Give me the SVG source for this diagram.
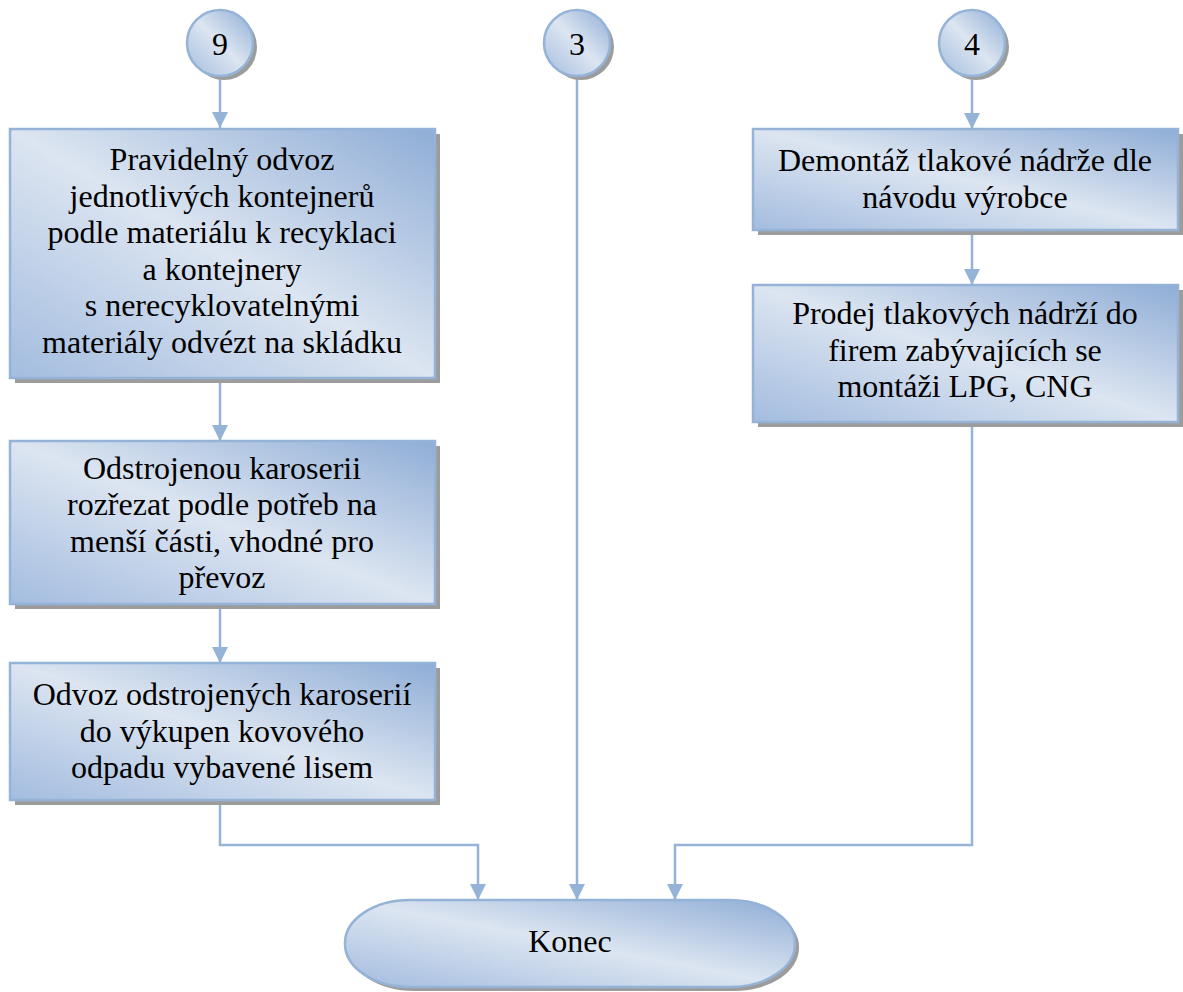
<svg xmlns="http://www.w3.org/2000/svg" width="1183" height="992" viewBox="0 0 1183 992" font-family="'Liberation Serif', 'Times New Roman', Times, serif">
  <style>
    .box { fill: url(#boxFill); stroke: #95b3d7; stroke-width: 2.5; }
    .shadow { fill: #9c9c9c; }
    .conn { fill: none; stroke: #95b3d7; stroke-width: 2.5; }
    .lbl { font-family: 'Liberation Serif', 'Times New Roman', Times, serif; font-size: 32px; fill: #000; text-anchor: middle; }
  </style>
  <defs>
    <linearGradient id="boxFill" x1="1" y1="0" x2="0" y2="1">
      <stop offset="0" stop-color="#8fadd6"/>
      <stop offset="0.5" stop-color="#dce5f1"/>
      <stop offset="1" stop-color="#a3bcdf"/>
    </linearGradient>
    <marker id="arrow" viewBox="0 0 16 16" refX="16" refY="8" markerWidth="16" markerHeight="16" markerUnits="userSpaceOnUse" orient="auto">
      <path d="M0,0 L16,8 L0,16 Z" fill="#95b3d7"/>
    </marker>
  </defs>

  <!-- connectors -->
  <g id="connectors">
    <path class="conn" d="M220,76 V128" marker-end="url(#arrow)"/>
    <path class="conn" d="M220,378 V441" marker-end="url(#arrow)"/>
    <path class="conn" d="M220,604 V663" marker-end="url(#arrow)"/>
    <path class="conn" d="M220,800 V845 H478 V900" marker-end="url(#arrow)"/>
    <path class="conn" d="M577,76 V900" marker-end="url(#arrow)"/>
    <path class="conn" d="M972,76 V129" marker-end="url(#arrow)"/>
    <path class="conn" d="M972,230 V285" marker-end="url(#arrow)"/>
    <path class="conn" d="M972,422 V845 H675 V900" marker-end="url(#arrow)"/>
  </g>

  <!-- connector circles -->
  <g id="c9">
    <circle class="shadow" cx="224" cy="47" r="33"/>
    <circle class="box" cx="220" cy="43" r="33"/>
    <text class="lbl" x="220" y="55">9</text>
  </g>
  <g id="c3">
    <circle class="shadow" cx="581" cy="47" r="33"/>
    <circle class="box" cx="577" cy="43" r="33"/>
    <text class="lbl" x="577" y="55">3</text>
  </g>
  <g id="c4">
    <circle class="shadow" cx="976" cy="47" r="33"/>
    <circle class="box" cx="972" cy="43" r="33"/>
    <text class="lbl" x="972" y="55">4</text>
  </g>

  <!-- left column -->
  <g id="n1">
    <rect class="shadow" x="15" y="134" width="425" height="249"/>
    <rect class="box" x="10" y="129" width="425" height="249"/>
    <text class="lbl" x="222" y="170">Pravidelný odvoz</text>
    <text class="lbl" x="222" y="206.5">jednotlivých kontejnerů</text>
    <text class="lbl" x="222" y="243">podle materiálu k recyklaci</text>
    <text class="lbl" x="222" y="279.5">a kontejnery</text>
    <text class="lbl" x="222" y="316">s nerecyklovatelnými</text>
    <text class="lbl" x="222" y="352.5">materiály odvézt na skládku</text>
  </g>
  <g id="n2">
    <rect class="shadow" x="15" y="446" width="425" height="163"/>
    <rect class="box" x="10" y="441" width="425" height="163"/>
    <text class="lbl" x="222" y="478.5">Odstrojenou karoserii</text>
    <text class="lbl" x="222" y="515">rozřezat podle potřeb na</text>
    <text class="lbl" x="222" y="551.5">menší části, vhodné pro</text>
    <text class="lbl" x="222" y="588">převoz</text>
  </g>
  <g id="n3">
    <rect class="shadow" x="15" y="668" width="425" height="137"/>
    <rect class="box" x="10" y="663" width="425" height="137"/>
    <text class="lbl" x="222" y="705">Odvoz odstrojených karoserií</text>
    <text class="lbl" x="222" y="741.5">do výkupen kovového</text>
    <text class="lbl" x="222" y="778">odpadu vybavené lisem</text>
  </g>

  <!-- right column -->
  <g id="n4">
    <rect class="shadow" x="758" y="134" width="425" height="101"/>
    <rect class="box" x="753" y="129" width="425" height="101"/>
    <text class="lbl" x="965" y="171">Demontáž tlakové nádrže dle</text>
    <text class="lbl" x="965" y="207.5">návodu výrobce</text>
  </g>
  <g id="n5">
    <rect class="shadow" x="758" y="290" width="425" height="137"/>
    <rect class="box" x="753" y="285" width="425" height="137"/>
    <text class="lbl" x="965" y="324">Prodej tlakových nádrží do</text>
    <text class="lbl" x="965" y="360.5">firem zabývajících se</text>
    <text class="lbl" x="965" y="397">montáži LPG, CNG</text>
  </g>

  <!-- terminator -->
  <g id="end">
    <rect class="shadow" x="349" y="904" width="450" height="87" rx="65" ry="43"/>
    <rect class="box" x="345" y="900" width="450" height="87" rx="65" ry="43"/>
    <text class="lbl" x="570" y="952">Konec</text>
  </g>
</svg>
